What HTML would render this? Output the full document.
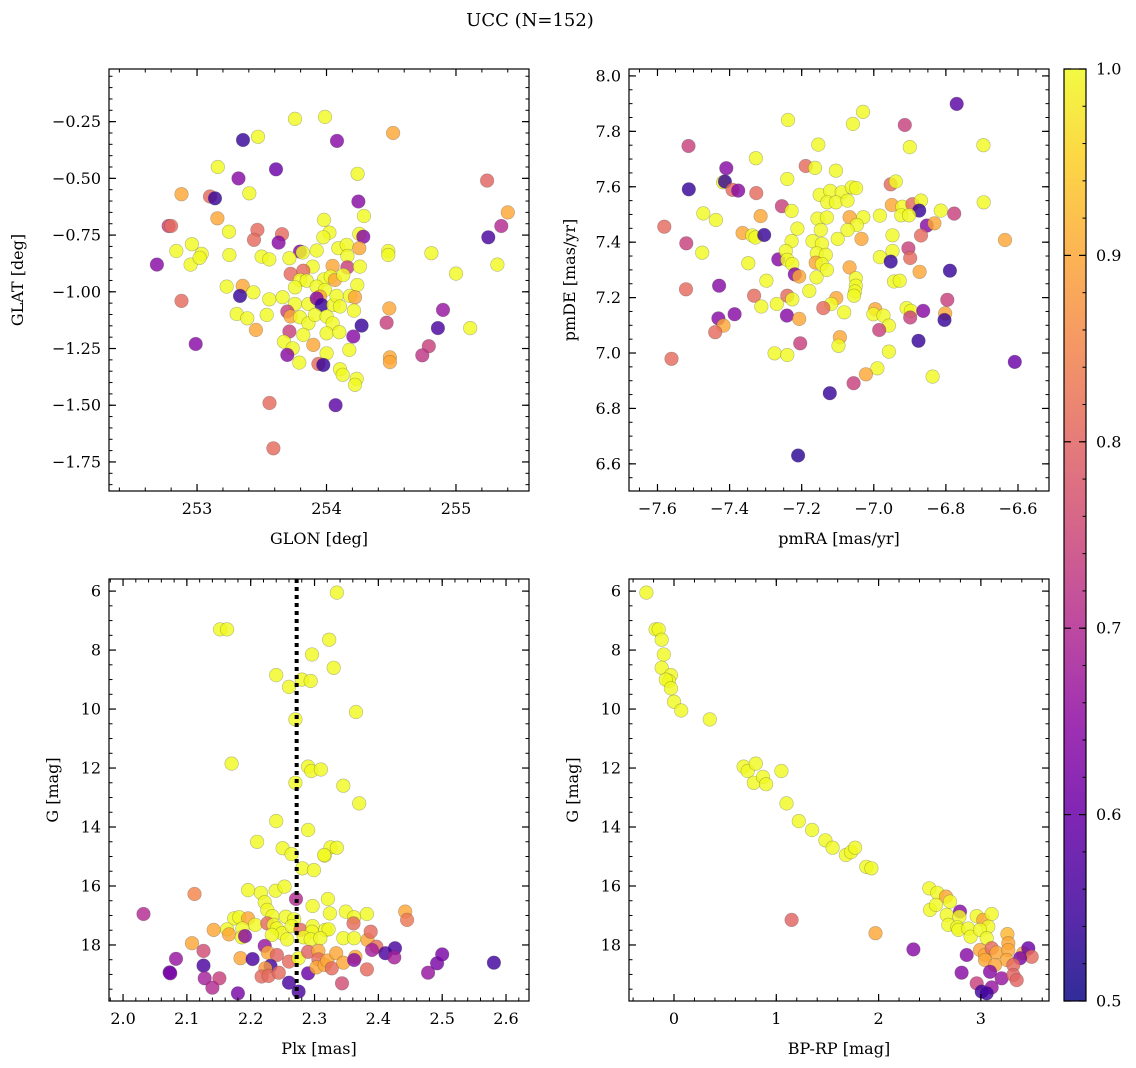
<!DOCTYPE html>
<html><head><meta charset="utf-8"><style>
html,body{margin:0;padding:0;background:#fff;}
svg{display:block;font-family:"DejaVu Serif","Liberation Serif",serif;}
</style></head><body>
<svg id="fig" width="1136" height="1068" viewBox="0 0 1136 1068" xmlns="http://www.w3.org/2000/svg">
<text x="530" y="26" font-size="18" text-anchor="middle">UCC (N=152)</text>
</svg>
<script>
// ---- data (x, y, membership probability) ----
const p1Stars = [
[253.100,-0.580,0.81],[253.139,-0.588,0.54],[253.404,-0.566,1],[254.246,-0.602,0.64],[254.289,-0.666,1],[253.157,-0.676,0.9],[253.247,-0.735,1],[253.466,-0.727,0.81],[253.440,-0.771,0.81],[253.656,-0.746,0.81],[253.630,-0.783,0.64],[253.981,-0.683,1],[254.022,-0.739,1],[253.975,-0.760,1],[254.253,-0.745,1],[254.284,-0.757,0.64],[253.795,-0.823,0.64],[253.816,-0.827,1],[253.924,-0.818,1],[254.091,-0.808,1],[254.156,-0.793,1],[254.161,-0.842,1],[254.253,-0.808,0.9],[254.477,-0.820,1],[254.477,-0.838,1],[253.036,-0.833,1],[253.250,-0.838,1],[253.499,-0.845,1],[253.558,-0.857,1],[253.713,-0.852,1],[253.893,-0.889,1],[254.047,-0.886,0.9],[254.161,-0.892,0.74],[254.258,-0.889,1],[253.723,-0.921,0.81],[253.821,-0.907,0.81],[253.795,-0.948,1],[253.847,-0.951,1],[253.981,-0.945,1],[254.032,-0.933,1],[254.065,-0.948,0.9],[254.130,-0.926,1],[254.238,-0.970,1],[253.757,-0.980,1],[253.924,-0.977,1],[253.988,-0.992,1],[253.950,-1.021,0.9],[253.229,-0.977,1],[253.353,-0.974,0.9],[253.435,-1.002,1],[253.332,-1.018,0.54],[253.558,-1.033,1],[253.661,-1.024,1],[253.757,-1.054,1],[253.860,-1.054,1],[253.924,-1.029,0.64],[253.963,-1.058,0.54],[254.053,-1.058,1],[254.078,-1.018,1],[254.104,-1.065,1],[254.181,-1.018,1],[254.220,-1.024,0.9],[254.212,-1.083,1],[254.485,-1.073,0.9],[253.306,-1.098,1],[253.388,-1.117,1],[253.538,-1.102,1],[253.697,-1.087,0.74],[253.723,-1.109,0.9],[253.795,-1.112,1],[253.860,-1.139,1],[253.911,-1.102,1],[254.001,-1.109,1],[254.047,-1.139,1],[253.455,-1.168,0.9],[253.713,-1.175,0.74],[253.821,-1.190,1],[254.001,-1.183,1],[254.099,-1.178,1],[254.271,-1.149,0.54],[254.207,-1.197,0.64],[254.464,-1.136,0.74],[253.672,-1.220,1],[253.739,-1.249,1],[253.697,-1.278,0.64],[253.898,-1.234,0.9],[254.001,-1.271,1],[254.176,-1.256,1],[254.490,-1.289,0.9],[253.790,-1.312,1],[253.937,-1.318,0.81],[253.975,-1.322,0.54],[254.104,-1.341,1],[254.125,-1.366,1],[254.233,-1.384,1],
[253.757,-0.238,1],[253.988,-0.229,1],[253.355,-0.331,0.54],[253.471,-0.317,1],[254.081,-0.335,0.64],[254.514,-0.300,0.9],
[253.61,-0.46,0.6],[253.16,-0.45,1],[253.32,-0.50,0.64],[254.24,-0.48,1],[252.88,-0.57,0.9],[252.78,-0.71,0.74],[252.80,-0.71,0.81],[252.84,-0.82,1],[252.96,-0.79,1],[252.95,-0.88,1],[253.02,-0.85,1],[252.69,-0.88,0.64],[252.88,-1.04,0.81],[252.99,-1.23,0.64],
[255.40,-0.65,0.9],[255.35,-0.71,0.7],[255.25,-0.76,0.56],[255.24,-0.51,0.8],[255.32,-0.88,1],[255.0,-0.92,1],[254.81,-0.83,1],[254.90,-1.08,0.66],[254.86,-1.16,0.56],[254.79,-1.24,0.74],[254.74,-1.28,0.72],[255.11,-1.16,1],[254.49,-1.31,0.9],[254.07,-1.50,0.58],[253.56,-1.49,0.81],[253.59,-1.69,0.81],[254.22,-1.41,1]
];
const p2Stars = [
[-7.514,7.747,0.74],[-7.154,7.752,1],[-6.900,7.743,1],[-6.696,7.750,1],[-7.327,7.703,1],[-7.409,7.667,0.64],[-7.189,7.675,0.81],[-7.163,7.668,1],[-7.105,7.658,1],[-7.240,7.628,1],[-7.513,7.591,0.54],[-7.418,7.616,1],[-7.413,7.619,0.54],[-7.392,7.589,0.81],[-7.376,7.586,0.64],[-7.326,7.577,0.81],[-7.150,7.571,1],[-7.121,7.585,1],[-7.089,7.580,1],[-7.061,7.598,1],[-7.049,7.595,1],[-7.129,7.544,1],[-7.105,7.544,1],[-7.073,7.550,1],[-6.953,7.609,0.81],[-6.939,7.619,1],[-6.695,7.544,1],[-7.255,7.530,0.74],[-7.228,7.513,1],[-7.473,7.504,1],[-7.438,7.480,1],[-7.314,7.494,0.9],[-7.156,7.485,1],[-7.130,7.489,1],[-7.067,7.490,0.9],[-7.029,7.490,1],[-7.047,7.462,1],[-7.073,7.444,1],[-6.983,7.496,1],[-6.950,7.534,0.9],[-6.921,7.528,1],[-6.893,7.537,0.81],[-6.869,7.550,1],[-6.874,7.514,0.54],[-6.924,7.497,1],[-6.902,7.497,1],[-6.814,7.514,1],[-6.777,7.503,0.74],[-6.853,7.460,0.64],[-6.832,7.468,0.9],[-6.869,7.424,0.81],[-7.581,7.456,0.81],[-7.520,7.396,0.74],[-7.364,7.433,0.9],[-7.337,7.424,1],[-7.328,7.417,1],[-7.304,7.426,0.54],[-7.212,7.449,1],[-7.147,7.444,1],[-7.228,7.404,1],[-7.170,7.404,1],[-7.144,7.394,1],[-7.100,7.412,1],[-7.034,7.412,0.9],[-6.948,7.425,1],[-6.636,7.408,0.9],[-7.476,7.362,1],[-7.265,7.338,0.64],[-7.244,7.368,1],[-7.240,7.336,1],[-7.226,7.321,1],[-7.158,7.360,1],[-7.133,7.354,1],[-7.161,7.326,0.9],[-7.144,7.321,1],[-7.130,7.300,1],[-7.067,7.309,0.9],[-6.983,7.346,1],[-6.948,7.368,1],[-6.953,7.330,0.54],[-6.904,7.378,0.74],[-6.899,7.343,0.81],[-6.873,7.293,0.9],[-6.789,7.297,0.54],[-7.348,7.324,1],[-7.219,7.284,0.64],[-7.207,7.276,0.9],[-7.159,7.273,1],[-7.050,7.270,1],[-7.050,7.243,1],[-7.052,7.222,1],[-7.055,7.207,1],[-6.944,7.258,1],[-6.928,7.261,1],[-7.298,7.261,1],[-7.179,7.224,1],[-7.521,7.230,0.81],[-7.429,7.243,0.64],[-7.332,7.207,0.81],[-7.240,7.207,0.81],[-7.226,7.194,1],[-7.104,7.198,0.9],[-7.118,7.177,1],[-7.140,7.162,0.81],[-7.082,7.147,1],[-7.269,7.177,1],[-7.312,7.168,1],[-7.241,7.135,0.64],[-7.207,7.123,0.9],[-7.386,7.140,0.64],[-7.431,7.125,0.64],[-7.417,7.099,0.9],[-7.440,7.075,0.81],[-6.996,7.158,0.9],[-7.001,7.140,1],[-6.973,7.135,1],[-6.958,7.099,1],[-6.985,7.083,0.74],[-6.909,7.162,1],[-6.897,7.152,1],[-6.899,7.128,0.74],[-6.863,7.152,0.64],[-6.796,7.192,0.74],[-6.802,7.143,0.9],[-6.804,7.119,0.54],[-6.876,7.044,0.54],[-7.204,7.035,0.74],[-7.094,7.057,0.9],[-7.098,7.026,1],[-7.275,6.999,1],[-7.240,6.993,1],[-6.958,7.005,1],[-6.609,6.968,0.6],[-7.561,6.979,0.81],[-6.990,6.945,1],[-7.022,6.923,0.9],[-6.837,6.915,1],[-7.056,6.891,0.74],[-7.122,6.855,0.54],[-7.21,6.63,0.53],
[-7.238,7.841,1],[-7.058,7.827,1],[-7.030,7.870,1],[-6.914,7.823,0.74],[-6.770,7.899,0.58]
];
const p3Stars = [
[2.210,14.50,1],[2.250,14.72,1],[2.264,14.92,1],[2.325,14.69,1],[2.316,14.97,1],[2.281,15.40,1],[2.299,15.46,1],[2.196,16.14,1],[2.216,16.23,1],[2.239,16.16,1],[2.253,16.02,1],[2.112,16.27,0.85],[2.271,16.44,0.7],[2.222,16.55,1],[2.226,16.81,1],[2.297,16.68,1],[2.321,16.44,1],[2.032,16.95,0.7],
[2.174,17.10,1],[2.182,17.06,1],[2.196,17.10,0.9],[2.207,17.32,1],[2.234,17.02,1],[2.255,17.04,1],[2.268,17.13,1],[2.324,16.93,1],[2.349,16.87,1],[2.362,17.06,1],[2.382,16.95,1],[2.442,16.87,0.9],[2.445,17.15,0.83],
[2.142,17.49,0.9],[2.163,17.47,1],[2.166,17.64,0.9],[2.187,17.44,1],[2.186,17.74,1],[2.191,17.70,0.64],[2.226,17.27,0.81],[2.236,17.32,1],[2.241,17.44,1],[2.249,17.60,1],[2.264,17.36,1],[2.278,17.49,0.81],[2.297,17.36,1],[2.296,17.55,1],[2.317,17.49,1],[2.322,17.47,1],[2.283,17.74,1],[2.257,17.81,1],[2.233,17.66,1],[2.294,17.81,1],[2.309,17.77,1],[2.345,17.77,1],[2.362,17.77,1],[2.383,17.83,0.9],[2.388,17.55,0.81],[2.397,18.06,0.81],[2.361,17.27,0.81],
[2.108,17.94,0.9],[2.126,18.20,0.76],[2.083,18.47,0.66],[2.073,18.93,0.6],[2.074,18.96,0.62],[2.126,18.70,0.56],[2.128,19.13,0.68],[2.151,19.13,0.74],[2.140,19.45,0.7],[2.180,19.64,0.62],
[2.184,18.45,0.9],[2.203,18.48,0.56],[2.222,18.03,0.66],[2.227,18.26,0.9],[2.241,18.34,0.8],[2.231,18.71,0.55],[2.223,18.79,0.88],[2.217,19.07,0.81],[2.228,19.05,0.81],[2.244,18.94,0.81],[2.260,18.565,0.81],[2.260,19.28,0.56],[2.275,19.58,0.56],[2.275,18.45,1],[2.290,18.96,0.6],[2.290,18.23,0.8],[2.306,18.20,0.9],[2.306,18.49,0.81],[2.303,18.76,0.9],[2.316,18.68,0.9],[2.320,18.53,0.9],[2.327,18.79,0.81],[2.334,18.28,0.9],[2.345,18.60,0.9],[2.343,19.30,0.76],[2.364,18.40,0.9],[2.362,18.51,0.64],[2.382,18.83,0.81],[2.390,18.17,0.68],[2.411,18.28,0.56],[2.426,18.11,0.56],[2.425,18.42,0.68],[2.478,18.94,0.66],[2.492,18.62,0.62],[2.500,18.32,0.62],[2.581,18.60,0.55],
[2.335,6.05,1],[2.152,7.3,1],[2.163,7.3,1],[2.323,7.65,1],[2.33,8.6,1],[2.296,8.15,1],[2.24,8.85,1],[2.26,9.25,1],[2.28,9.0,1],[2.294,9.05,1],[2.27,10.35,1],[2.365,10.1,1],[2.17,11.85,1],[2.29,11.95,1],[2.295,12.1,1],[2.31,12.05,1],[2.27,12.5,1],[2.345,12.6,1],[2.37,13.2,1],[2.24,13.8,1],[2.29,14.1,1],[2.335,14.7,1],[2.315,14.95,1]
];
const p4Stars = [
[2.496,16.08,1],[2.574,16.23,1],[2.659,16.36,0.9],[2.698,16.53,1],[2.503,16.81,1],[2.561,16.64,1],[2.666,16.98,1],[2.796,16.87,0.64],[2.790,17.04,1],[2.682,17.32,1],[2.770,17.40,1],[2.780,17.49,1],[2.877,17.44,1],[2.900,17.72,1],[2.959,17.02,1],[3.024,17.15,0.9],[3.106,16.95,1],[3.073,17.38,1],[2.991,17.49,1],[3.057,17.77,1],[3.259,17.63,0.92],[3.268,17.94,0.9],[2.861,18.34,0.64],[2.991,18.17,0.9],[3.040,18.34,0.9],[3.106,18.11,0.81],[3.154,18.26,0.9],[3.268,18.17,0.9],[3.252,18.51,0.9],[3.040,18.51,0.9],[3.138,18.68,0.9],[3.415,18.28,0.9],[3.464,18.11,0.6],[3.497,18.40,0.81],[3.383,18.45,0.62],[3.317,18.68,0.81],[3.089,18.91,0.64],[3.203,19.13,0.66],[3.317,19.02,0.8],[3.350,19.19,0.8],[2.340,18.15,0.64],[2.812,18.94,0.64],[2.959,19.30,0.74],[3.008,19.58,0.55],[3.106,19.44,0.66],[3.057,19.64,0.55],
[-0.27,6.05,1],[-0.18,7.3,1],[-0.15,7.3,1],[-0.12,7.65,1],[-0.1,8.15,1],[-0.12,8.6,1],[-0.03,8.85,1],[-0.05,9.05,1],[-0.08,9.0,1],[-0.03,9.3,1],[0.0,9.75,1],[0.07,10.05,1],[0.35,10.35,1],[0.68,11.95,1],[0.72,12.1,1],[0.8,11.85,1],[0.78,12.5,1],[0.87,12.3,1],[0.9,12.55,1],[1.05,12.1,1],[1.1,13.2,1],[1.22,13.8,1],[1.35,14.1,1],[1.48,14.45,1],[1.55,14.7,1],[1.68,14.95,1],[1.73,14.85,1],[1.77,14.7,1],[1.88,15.35,1],[1.93,15.4,1],[1.97,17.6,0.9],[1.15,17.15,0.8]
];
const plxLine = 2.272;
const p1XTicks = [253,254,255];
const p1YTicks = [-0.25,-0.50,-0.75,-1.00,-1.25,-1.50,-1.75];
const p2XTicks = [-7.6,-7.4,-7.2,-7.0,-6.8,-6.6];
const p2YTicks = [8.0,7.8,7.6,7.4,7.2,7.0,6.8,6.6];
const p3XTicks = [2.0,2.1,2.2,2.3,2.4,2.5,2.6];
const gTicks = [6,8,10,12,14,16,18];
const p4XTicks = [0,1,2,3];
const cbTicks = [0.5,0.6,0.7,0.8,0.9,1.0];

const NS="http://www.w3.org/2000/svg";
const svg=document.getElementById('fig');
const plasma=['#0d0887','#41049d','#6a00a8','#8f0da4','#b12a90','#cc4778','#e16462','#f2844b','#fca636','#fcce25','#f0f921'];
function hex(c){return [parseInt(c.slice(1,3),16),parseInt(c.slice(3,5),16),parseInt(c.slice(5,7),16)];}
function cmap(p){let t=Math.max(0,Math.min(1,(p-0.5)/0.5))*10;let i=Math.min(9,Math.floor(t));let f=t-i;let a=hex(plasma[i]),b=hex(plasma[i+1]);return 'rgb('+a.map((v,k)=>Math.round(v+(b[k]-v)*f)).join(',')+')';}
function el(tag,attrs,parent){const e=document.createElementNS(NS,tag);for(const k in attrs)e.setAttribute(k,attrs[k]);(parent||svg).appendChild(e);return e;}
function fmt(v,d){let s=v.toFixed(d);return s.replace('-','\u2212');}

function panel(o){
  const g=el('g',{});
  
  
  const sx=v=>o.L+(v-o.x0)/(o.x1-o.x0)*(o.R-o.L);
  const sy=v=>o.T+(v-o.y0)/(o.y1-o.y0)*(o.B-o.T);
  const pg=el('g',{},g);
  
  
  const clip=el('clipPath',{id:o.name+'-clip'},g);
  el('rect',{x:o.L,y:o.T,width:o.R-o.L,height:o.B-o.T},clip);
  pg.setAttribute('clip-path','url(#'+o.name+'-clip)');
  o.data.forEach(d=>{
    const c=el('circle',{cx:sx(d[0]).toFixed(1),cy:sy(d[1]).toFixed(1),r:6.8,fill:cmap(d[2]),'fill-opacity':0.82,stroke:'rgba(60,60,60,0.35)','stroke-width':0.6},pg);
    
    
  });
  if(o.vline!==undefined){
    const l=el('line',{x1:sx(o.vline),x2:sx(o.vline),y1:o.T,y2:o.B,stroke:'#000','stroke-width':4,'stroke-dasharray':'4 4'},g);
    
    
  }
  const fr=el('rect',{x:o.L,y:o.T,width:o.R-o.L,height:o.B-o.T,fill:'none',stroke:'#000','stroke-width':1.2},g);
  
  
  const mx=Math.min(o.x0,o.x1),Mx=Math.max(o.x0,o.x1);
  for(let k=Math.ceil(mx/o.xm-1e-6);k*o.xm<=Mx+1e-9;k++){const X=sx(k*o.xm);
    el('line',{x1:X,x2:X,y1:o.B,y2:o.B-3.5,stroke:'#000','stroke-width':1},g);
    el('line',{x1:X,x2:X,y1:o.T,y2:o.T+3.5,stroke:'#000','stroke-width':1},g);}
  const my=Math.min(o.y0,o.y1),My=Math.max(o.y0,o.y1);
  for(let k=Math.ceil(my/o.ym-1e-6);k*o.ym<=My+1e-9;k++){const Y=sy(k*o.ym);
    el('line',{x1:o.L,x2:o.L+3.5,y1:Y,y2:Y,stroke:'#000','stroke-width':1},g);
    el('line',{x1:o.R,x2:o.R-3.5,y1:Y,y2:Y,stroke:'#000','stroke-width':1},g);}
  o.xt.forEach(v=>{const X=sx(v);
    el('line',{x1:X,x2:X,y1:o.B,y2:o.B-7,stroke:'#000','stroke-width':1.2},g);
    el('line',{x1:X,x2:X,y1:o.T,y2:o.T+7,stroke:'#000','stroke-width':1.2},g);
    const t=el('text',{x:X,y:o.B+23,'font-size':16,'text-anchor':'middle'},g);t.textContent=fmt(v,o.xd);
    
    });
  o.yt.forEach(v=>{const Y=sy(v);
    el('line',{x1:o.L,x2:o.L+7,y1:Y,y2:Y,stroke:'#000','stroke-width':1.2},g);
    el('line',{x1:o.R,x2:o.R-7,y1:Y,y2:Y,stroke:'#000','stroke-width':1.2},g);
    const t=el('text',{x:o.L-8,y:Y+5.5,'font-size':16,'text-anchor':'end'},g);t.textContent=fmt(v,o.yd);
    
    });
  const xl=el('text',{x:(o.L+o.R)/2,y:o.B+53,'font-size':16,'text-anchor':'middle'},g);xl.textContent=o.xlab;
  
  
  const yl=el('text',{x:o.ylx,y:(o.T+o.B)/2,'font-size':16,'text-anchor':'middle',transform:'rotate(-90 '+o.ylx+' '+((o.T+o.B)/2)+')'},g);yl.textContent=o.ylab;
  
  
}

panel({name:'glon-glat-panel',L:109,R:529,T:69,B:491,x0:252.320,x1:255.564,y0:-0.018,y1:-1.878,xt:p1XTicks,yt:p1YTicks,xm:0.2,ym:0.05,xd:0,yd:2,data:p1Stars,xlab:'GLON [deg]',ylab:'GLAT [deg]',ylx:23});
panel({name:'pm-panel',L:629,R:1049,T:69,B:491,x0:-7.679,x1:-6.514,y0:8.025,y1:6.502,xt:p2XTicks,yt:p2YTicks,xm:0.05,ym:0.05,xd:1,yd:1,data:p2Stars,xlab:'pmRA [mas/yr]',ylab:'pmDE [mas/yr]',ylx:575});
panel({name:'plx-g-panel',L:109,R:529,T:579,B:1001,x0:1.978,x1:2.636,y0:5.59,y1:19.90,xt:p3XTicks,yt:gTicks,xm:0.02,ym:0.5,xd:1,yd:0,data:p3Stars,vline:plxLine,xlab:'Plx [mas]',ylab:'G [mag]',ylx:58});
panel({name:'cmd-panel',L:629,R:1049,T:579,B:1001,x0:-0.44,x1:3.666,y0:5.59,y1:19.90,xt:p4XTicks,yt:gTicks,xm:0.2,ym:0.5,xd:0,yd:0,data:p4Stars,xlab:'BP-RP [mag]',ylab:'G [mag]',ylx:578});

(function(){
  const L=1064,R=1086,T=69,B=1001;
  const g=el('g',{});
  
  
  const defs=el('defs',{},g);
  const lg=el('linearGradient',{id:'plasmaGrad',x1:0,y1:1,x2:0,y2:0},defs);
  plasma.forEach((c,i)=>el('stop',{offset:(i/10),'stop-color':c},lg));
  el('rect',{x:L,y:T,width:R-L,height:B-T,fill:'url(#plasmaGrad)','fill-opacity':0.85},g);
  el('rect',{x:L,y:T,width:R-L,height:B-T,fill:'none',stroke:'#000','stroke-width':1.2},g);
  const sy=v=>B-(v-0.5)/0.5*(B-T);
  for(let k=25;k<=50;k++){const Y=sy(k*0.02);el('line',{x1:R,x2:R-3.5,y1:Y,y2:Y,stroke:'#000','stroke-width':1},g);}
  cbTicks.forEach(v=>{const Y=sy(v);
    el('line',{x1:R,x2:R-7,y1:Y,y2:Y,stroke:'#000','stroke-width':1.2},g);
    el('line',{x1:L,x2:L+7,y1:Y,y2:Y,stroke:'#000','stroke-width':1.2},g);
    const t=el('text',{x:R+10,y:Y+5.5,'font-size':16},g);t.textContent=v.toFixed(1);
    
    });
})();
</script>
</body></html>
